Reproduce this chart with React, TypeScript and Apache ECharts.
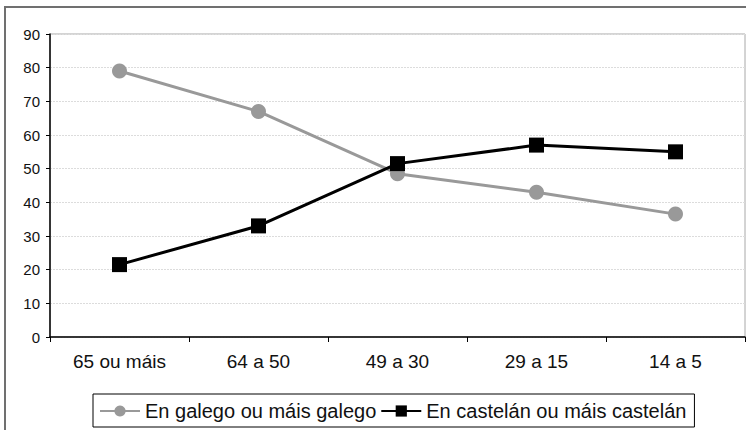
import React, { useEffect, useRef } from "react";
import * as echarts from "echarts";

const categories = ["65 ou máis", "64 a 50", "49 a 30", "29 a 15", "14 a 5"];
const galego = [79, 67, 48.5, 43, 36.5];
const castelan = [21.5, 33, 51.5, 57, 55];
const seriesNames = ["En galego ou máis galego", "En castelán ou máis castelán"];

export default function App() {
  const ref = useRef<HTMLDivElement>(null);
  useEffect(() => {
    const chart = echarts.init(ref.current!, null, { renderer: "svg" });
    const font = "'Liberation Sans', Arial, sans-serif";
    chart.setOption({
      animation: false,
      backgroundColor: "#ffffff",
      textStyle: { fontFamily: font },
      grid: {
        left: 50,
        top: 34,
        right: 1,
        bottom: 93,
        show: true,
        borderColor: "#a8a8a8",
        borderWidth: 1,
      },
      graphic: [
        {
          type: "polyline",
          shape: { points: [[5, 430], [5, 7], [746, 7]] },
          style: { stroke: "#707070", lineWidth: 2, fill: "none" },
          silent: true,
        },
      ],
      legend: {
        top: 394,
        left: 93,
        data: seriesNames,
        itemWidth: 40,
        itemHeight: 14,
        itemGap: 4,
        borderColor: "#000",
        borderWidth: 1,
        borderRadius: 0,
        padding: [7, 8, 6, 6],
        textStyle: { fontSize: 20, color: "#111", fontFamily: font },
      },
      xAxis: {
        type: "category",
        data: categories,
        boundaryGap: true,
        axisLine: { lineStyle: { color: "#000", width: 1.5 } },
        axisTick: { show: true, length: 5, lineStyle: { color: "#000" } },
        axisLabel: { fontSize: 19, color: "#111", margin: 15, fontFamily: font },
        splitLine: { show: false },
      },
      yAxis: {
        type: "value",
        min: 0,
        max: 90,
        interval: 10,
        axisLine: { show: true, lineStyle: { color: "#000", width: 1.5 } },
        axisTick: { show: true, length: 4, lineStyle: { color: "#000" } },
        axisLabel: { fontSize: 15, color: "#111", margin: 10, fontFamily: font },
        splitLine: { show: true, lineStyle: { color: "#dcdcdc", width: 1, type: [2, 1] } },
      },
      series: [
        {
          name: seriesNames[0],
          type: "line",
          data: galego,
          symbol: "circle",
          symbolSize: 15,
          lineStyle: { color: "#999999", width: 3 },
          itemStyle: { color: "#999999" },
        },
        {
          name: seriesNames[1],
          type: "line",
          data: castelan,
          symbol: "rect",
          symbolSize: 15,
          lineStyle: { color: "#000000", width: 3 },
          itemStyle: { color: "#000000" },
        },
      ],
    });
    return () => chart.dispose();
  }, []);
  return (
    <div
      ref={ref}
      style={{ position: "absolute", left: 0, top: 0, width: 746, height: 430 }}
    />
  );
}
